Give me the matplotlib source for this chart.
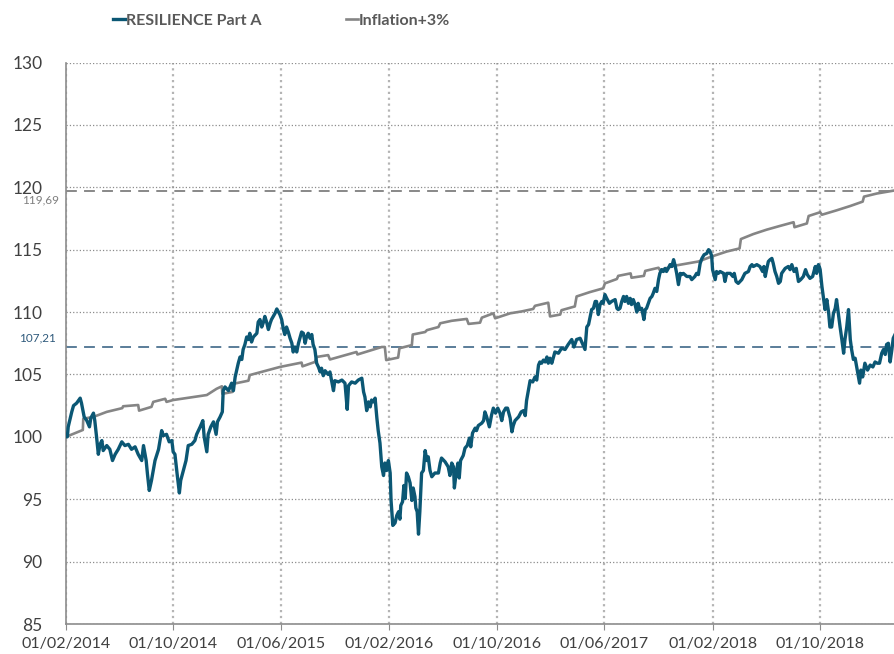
import numpy as np
import pandas as pd
import matplotlib
matplotlib.use("Agg")
import matplotlib.pyplot as plt
import matplotlib.dates as mdates

plt.rcParams['font.family'] = ['Lato', 'DejaVu Sans']

#----------------------------------
# data (days since 01/02/2014, base 100)
#----------------------------------
start = pd.Timestamp("2014-02-01")

fund_days = [0, 3, 5, 13, 17, 24, 32, 35, 41, 47, 53, 56, 62, 65, 69, 73, 77, 81, 84, 92,
             99, 105, 111, 118, 126, 133, 141, 148, 156, 163, 171, 175, 181, 184, 188, 193, 201, 209, 216, 220,
             227, 233, 239, 242, 246, 251, 256, 259, 265, 271, 276, 284, 291, 295, 303, 309, 312, 318, 321, 327,
             333, 339, 342, 348, 353, 355, 359, 367, 374, 378, 382, 389, 393, 397, 400, 404, 408, 412, 415, 419,
             423, 431, 434, 438, 442, 446, 449, 453, 457, 461, 464, 468, 472, 476, 479, 483, 487, 491, 494, 498,
             502, 506, 510, 513, 517, 521, 525, 528, 532, 536, 540, 543, 547, 551, 555, 558, 562, 566, 570, 574,
             577, 581, 585, 592, 596, 604, 607, 615, 623, 630, 635, 638, 645, 653, 660, 668, 672, 675, 679, 683,
             687, 690, 694, 698, 702, 705, 709, 713, 717, 720, 724, 728, 732, 734, 738, 743, 747, 751, 754, 756,
             760, 763, 766, 769, 773, 777, 781, 784, 788, 790, 793, 796, 799, 803, 807, 811, 815, 818, 822, 826,
             833, 841, 845, 848, 856, 863, 867, 871, 875, 877, 881, 885, 888, 891, 897, 901, 906, 911, 914, 918,
             924, 927, 931, 939, 943, 946, 950, 956, 961, 965, 970, 975, 980, 984, 988, 993, 997, 1003, 1007, 1010,
             1014, 1022, 1028, 1033, 1037, 1040, 1044, 1048, 1054, 1059, 1063, 1067, 1070, 1074, 1078, 1082, 1086, 1089, 1093, 1097,
             1104, 1112, 1119, 1127, 1134, 1142, 1147, 1153, 1161, 1166, 1172, 1176, 1180, 1183, 1187, 1191, 1195, 1198, 1202, 1206,
             1210, 1213, 1217, 1221, 1227, 1232, 1240, 1244, 1247, 1251, 1255, 1259, 1262, 1266, 1270, 1274, 1277, 1281, 1285, 1289,
             1292, 1296, 1300, 1305, 1308, 1311, 1315, 1319, 1323, 1326, 1330, 1334, 1338, 1341, 1345, 1349, 1353, 1356, 1360, 1364,
             1368, 1372, 1375, 1379, 1383, 1387, 1390, 1394, 1402, 1409, 1413, 1420, 1424, 1428, 1432, 1436, 1441, 1447, 1451, 1454,
             1458, 1460, 1466, 1469, 1473, 1477, 1485, 1488, 1492, 1500, 1506, 1509, 1513, 1518, 1526, 1533, 1541, 1545, 1549, 1552,
             1560, 1567, 1573, 1576, 1579, 1582, 1586, 1590, 1594, 1597, 1601, 1605, 1609, 1613, 1616, 1624, 1631, 1635, 1639, 1644,
             1649, 1654, 1659, 1665, 1670, 1674, 1680, 1686, 1692, 1695, 1699, 1701, 1703, 1707, 1710, 1714, 1718, 1722, 1725, 1729,
             1733, 1737, 1740, 1744, 1748, 1752, 1756, 1759, 1763, 1767, 1771, 1774, 1778, 1782, 1786, 1789, 1792, 1795, 1799, 1804,
             1810, 1816, 1822, 1827, 1832, 1837, 1842, 1846, 1850, 1853, 1857, 1861, 1865, 1868, 1872]

fund_vals = [100.0, 100.0, 100.8, 102.0, 102.5, 102.7, 103.1, 102.7, 101.6, 101.3, 100.8, 101.5, 101.9, 101.3, 100.0, 98.6, 99.4, 99.7, 98.9, 99.3,
             99.0, 98.1, 98.6, 99.0, 99.6, 99.3, 99.4, 99.0, 99.2, 98.6, 98.1, 99.3, 98.1, 97.0, 95.7, 96.5, 98.1, 99.0, 100.5, 100.1,
             100.2, 99.6, 99.7, 98.8, 98.6, 97.0, 95.5, 96.5, 97.3, 98.1, 99.3, 99.4, 99.7, 100.2, 100.8, 101.3, 100.0, 98.8, 100.2, 100.8,
             101.2, 100.2, 101.2, 101.6, 102.0, 103.7, 104.0, 103.7, 104.3, 103.7, 104.8, 105.9, 106.4, 106.2, 107.0, 107.4, 108.0, 107.8, 108.3, 107.6,
             108.0, 108.3, 109.2, 109.4, 108.8, 109.2, 109.65, 109.2, 108.6, 109.1, 109.4, 109.65, 109.9, 110.25, 110.05, 109.8, 109.4, 108.6, 108.2, 108.8,
             108.4, 107.9, 107.5, 106.8, 107.2, 106.8, 107.5, 107.9, 108.4, 108.3, 107.5, 108.0, 108.3, 107.9, 108.2, 107.4, 107.0, 105.9, 105.6, 105.2,
             105.5, 104.9, 105.3, 105.0, 105.2, 103.7, 104.5, 104.4, 104.55, 104.3, 102.2, 104.1, 104.4, 104.3, 104.55, 104.7, 103.6, 103.2, 102.1, 102.8,
             102.4, 102.95, 102.8, 103.1, 101.5, 100.5, 99.5, 97.6, 96.9, 97.9, 97.3, 98.1, 97.1, 94.9, 92.9, 93.1, 93.7, 94.0, 93.4, 94.5,
             94.8, 96.1, 95.05, 97.1, 96.8, 96.3, 94.9, 95.9, 95.2, 94.3, 94.0, 92.2, 94.0, 97.1, 97.3, 98.9, 98.1, 98.4, 97.3, 96.8,
             97.1, 97.1, 97.9, 98.3, 98.0, 97.6, 96.9, 97.9, 97.6, 95.9, 97.1, 97.9, 96.7, 98.1, 98.5, 99.1, 99.3, 99.9, 99.2, 100.3,
             100.7, 100.5, 100.9, 101.1, 101.3, 102.0, 101.6, 100.8, 101.75, 102.3, 101.9, 102.3, 101.9, 101.3, 102.0, 102.3, 102.3, 101.5, 100.4, 100.9,
             101.3, 101.6, 102.0, 102.1, 101.7, 102.9, 103.7, 104.5, 104.4, 104.8, 104.55, 105.75, 106.0, 105.9, 106.15, 106.0, 106.4, 105.9, 106.3, 105.9,
             106.8, 106.7, 107.1, 107.0, 107.4, 107.8, 107.2, 107.8, 107.9, 107.5, 107.0, 108.8, 109.0, 109.5, 110.2, 110.3, 110.85, 110.85, 109.8, 110.6,
             110.85, 110.7, 111.4, 111.1, 110.7, 110.85, 111.0, 110.3, 110.2, 110.3, 110.85, 111.25, 110.85, 111.25, 110.7, 111.1, 110.6, 111.0, 110.6, 110.0,
             110.7, 110.2, 110.3, 109.4, 110.2, 110.3, 110.7, 111.1, 111.25, 111.5, 111.9, 111.65, 112.6, 113.1, 113.4, 113.25, 113.5, 113.25, 113.5, 113.8,
             113.65, 114.2, 113.8, 113.1, 112.2, 113.1, 113.0, 113.1, 112.85, 112.85, 112.6, 112.85, 113.1, 113.0, 113.9, 114.3, 114.6, 114.7, 115.0, 114.9,
             114.5, 113.4, 112.6, 113.25, 113.1, 113.25, 113.1, 112.45, 113.1, 113.1, 112.85, 113.1, 112.45, 112.3, 112.6, 113.1, 113.25, 113.65, 113.8, 113.65,
             113.8, 113.65, 113.25, 113.65, 112.85, 113.4, 114.05, 114.2, 114.3, 113.9, 113.25, 112.85, 112.3, 112.45, 113.1, 113.5, 113.65, 113.4, 113.8, 113.25,
             113.5, 112.45, 112.6, 112.85, 113.4, 113.0, 112.7, 112.85, 113.65, 113.1, 113.8, 113.65, 113.4, 112.05, 111.25, 110.2, 111.0, 110.0, 108.8, 108.8,
             109.9, 110.3, 111.0, 109.9, 108.8, 107.8, 106.7, 107.8, 108.8, 110.2, 107.8, 107.0, 106.2, 106.3, 105.5, 104.95, 104.3, 105.35, 104.8, 105.9,
             105.35, 105.75, 105.6, 106.0, 105.9, 105.9, 106.7, 107.0, 106.6, 107.4, 107.5, 106.0, 107.0, 107.9, 108.2]

infl_days = [0, 38, 39, 62, 92, 127, 129, 163, 165, 193, 197, 224, 227, 242, 318, 340, 352, 353, 376, 378,
             412, 415, 483, 532, 534, 562, 566, 592, 596, 656, 658, 713, 720, 723, 750, 753, 781, 783, 811, 815,
             841, 845, 871, 905, 909, 935, 939, 965, 969, 1003, 1029, 1055, 1059, 1089, 1093, 1116, 1119, 1149, 1153, 1183,
             1213, 1217, 1244, 1247, 1275, 1277, 1305, 1308, 1338, 1341, 1372, 1428, 1458, 1492, 1521, 1524, 1552, 1582, 1612, 1643,
             1645, 1673, 1677, 1703, 1707, 1740, 1771, 1799, 1802, 1831, 1872]

infl_vals = [100.0, 100.55, 101.45, 101.6, 102.0, 102.3, 102.45, 102.55, 102.1, 102.4, 102.8, 103.05, 102.8, 102.95, 103.35, 103.85, 104.05, 103.45, 103.6, 104.25,
             104.5, 104.95, 105.6, 105.95, 105.65, 106.0, 106.4, 106.55, 106.2, 106.8, 106.6, 107.2, 107.2, 106.15, 106.35, 107.1, 107.35, 108.2, 108.4, 108.55,
             108.8, 109.1, 109.3, 109.45, 109.05, 109.15, 109.55, 109.9, 109.5, 109.9, 110.05, 110.25, 110.5, 110.75, 109.65, 109.8, 110.15, 110.45, 111.25, 111.6,
             111.9, 112.3, 112.65, 112.9, 113.1, 112.75, 112.9, 113.3, 113.55, 113.35, 113.7, 114.05, 114.45, 114.85, 115.1, 115.85, 116.25, 116.6, 116.9, 117.2,
             116.8, 117.1, 117.7, 118.0, 117.8, 118.15, 118.5, 118.85, 119.25, 119.5, 119.75]

last_infl = 119.69
last_fund = 107.21

tick_dates = ["2014-02-01", "2014-10-01", "2015-06-01", "2016-02-01", "2016-10-01",
              "2017-06-01", "2018-02-01", "2018-10-01"]

fund_x = start + pd.to_timedelta(fund_days, unit="D")
infl_x = start + pd.to_timedelta(infl_days, unit="D")

#----------------------------------
# plot
#----------------------------------
blue = "#0b5774"
grey = "#858585"
txt = "#404040"

fig = plt.figure(figsize=(8.95, 6.54), dpi=100)
ax = fig.add_axes([66/895, 1 - 624/654, 1 - 66/895, (624 - 62.5)/654])

ax.plot(fund_x, fund_vals, color=blue, lw=2.4, label="RESILIENCE Part A", zorder=4)
ax.plot(infl_x, infl_vals, color=grey, lw=1.9, label="Inflation+3%", zorder=3)

ax.axhline(last_infl, color="#7f7f7f", lw=1.3, ls=(0, (6, 4)), zorder=2)
ax.axhline(last_fund, color="#4d7391", lw=1.3, ls=(0, (6, 4)), zorder=2)

ax.set_ylim(85, 130)
ax.set_yticks(np.arange(85, 131, 5))
ax.set_xlim(start, start + pd.Timedelta(days=1872))
ax.set_xticks(pd.to_datetime(tick_dates))
ax.xaxis.set_major_formatter(mdates.DateFormatter("%d/%m/%Y"))

ax.grid(axis="y", ls=":", color="#8c8c8c", lw=0.9)
ax.grid(axis="x", ls=":", color="#b4b4b4", lw=1.6)

for s in ["top", "right"]:
    ax.spines[s].set_visible(False)
for s in ["left", "bottom"]:
    ax.spines[s].set_color("#8c8c8c")
    ax.spines[s].set_linewidth(1.2)

ax.tick_params(axis="y", length=0, pad=17, labelsize=12.5, labelcolor=txt)
ax.tick_params(axis="x", length=4, color="#8c8c8c", pad=5.5, labelsize=11.5, labelcolor=txt)

# value labels of the dashed lines
trans = ax.get_yaxis_transform()
ax.text(-0.008, last_infl - 0.3, "119,69", transform=trans, ha="right", va="top",
        fontsize=8.5, color="#7f7f7f")
ax.text(-0.012, last_fund + 0.3, "107,21", transform=trans, ha="right", va="bottom",
        fontsize=8.5, color="#2f5a7c")

leg = fig.legend(loc="center", bbox_to_anchor=(0.3145, 0.968), ncol=2, frameon=False,
                 handlelength=0.75, handletextpad=0.05, columnspacing=5.3,
                 prop={"weight": "bold", "size": 11.5})
for t in leg.get_texts():
    t.set_color("#595959")

fig.savefig("out.png", dpi=100)
